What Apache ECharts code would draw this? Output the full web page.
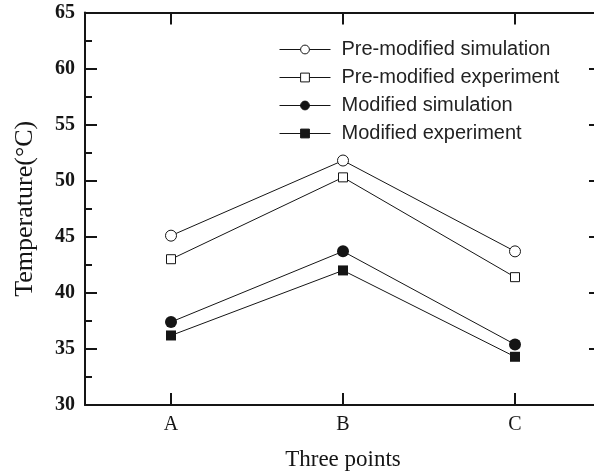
<!DOCTYPE html>
<html>
<head>
<meta charset="utf-8">
<title>Three points temperature</title>
<script src="https://cdn.jsdelivr.net/npm/echarts@6/dist/echarts.min.js"></script>
<style>
  html, body { margin: 0; padding: 0; background: #fff; }
  #chart { width: 594px; height: 474px; }
</style>
</head>
<body>
<div id="chart"></div>
<script>
// values
var categories = ['A', 'B', 'C']
var preSim = [45.1, 51.8, 43.7]
var preExp = [43.0, 50.3, 41.4]
var modSim = [37.4, 43.7, 35.4]
var modExp = [36.2, 42.0, 34.3]

var serifFont = '"Liberation Serif", "Times New Roman", serif'
var sansFont = '"Liberation Sans", Arial, sans-serif'
var ink = '#151515'

function lineSeries (name, data, symbol, size, open) {
  return {
    name: name,
    type: 'line',
    data: data,
    symbol: symbol,
    symbolSize: size,
    lineStyle: { color: ink, width: 1 },
    itemStyle: open
      ? { color: '#fff', borderColor: ink, borderWidth: 1 }
      : { color: ink, borderColor: ink, borderWidth: 0 },
    emphasis: { disabled: true },
    z: 3
  }
}

var tickStyle = { show: true, inside: true, length: 12, lineStyle: { color: ink, width: 2 } }
var minorStyle = { show: true, splitNumber: 2, length: 7, lineStyle: { color: ink, width: 2 } }

var option = {
  animation: false,
  // the right frame edge sits just outside the picture
  grid: { left: 85, top: 12.5, width: 516, height: 392.5, outerBoundsMode: 'none' },
  legend: {
    left: 279,
    top: 39.5,
    padding: 0,
    orient: 'vertical',
    itemWidth: 51,
    itemHeight: 11,
    itemGap: 8,
    lineStyle: { color: ink, width: 1 },
    itemStyle: { borderWidth: 1 },
    textStyle: { fontFamily: sansFont, fontSize: 20, color: '#222', padding: [0, 0, 0, 6] },
    data: ['Pre-modified simulation', 'Pre-modified experiment', 'Modified simulation', 'Modified experiment']
  },
  xAxis: [
    {
      type: 'category',
      data: categories,
      position: 'bottom',
      name: 'Three points',
      nameLocation: 'middle',
      nameGap: 43,
      nameTextStyle: { fontFamily: serifFont, fontSize: 23, color: ink },
      axisLine: { lineStyle: { color: ink, width: 2 } },
      axisTick: Object.assign({ alignWithLabel: true }, tickStyle),
      axisLabel: { fontFamily: serifFont, fontSize: 20, color: ink, margin: 10 },
      splitLine: { show: false }
    },
    {
      type: 'category',
      data: categories,
      position: 'top',
      axisLine: { lineStyle: { color: ink, width: 2 } },
      axisTick: Object.assign({ alignWithLabel: true }, tickStyle),
      axisLabel: { show: false },
      splitLine: { show: false }
    }
  ],
  yAxis: [
    {
      type: 'value',
      min: 30,
      max: 65,
      interval: 5,
      position: 'left',
      name: 'Temperature(°C)',
      nameLocation: 'middle',
      nameGap: 47,
      nameTextStyle: { fontFamily: serifFont, fontSize: 26, color: ink },
      axisLine: { show: true, lineStyle: { color: ink, width: 2 } },
      axisTick: tickStyle,
      minorTick: minorStyle,
      axisLabel: { fontFamily: serifFont, fontSize: 20, fontWeight: 'bold', color: ink, margin: 10 },
      splitLine: { show: false }
    },
    {
      type: 'value',
      min: 30,
      max: 65,
      interval: 5,
      position: 'right',
      axisLine: { show: true, lineStyle: { color: ink, width: 2 } },
      axisTick: tickStyle,
      minorTick: minorStyle,
      axisLabel: { show: false },
      splitLine: { show: false }
    }
  ],
  series: [
    lineSeries('Pre-modified simulation', preSim, 'circle', 11, true),
    lineSeries('Pre-modified experiment', preExp, 'rect', 9, true),
    lineSeries('Modified simulation', modSim, 'circle', 12, false),
    lineSeries('Modified experiment', modExp, 'rect', 10, false)
  ]
}

var chart = echarts.init(document.getElementById('chart'), null, { renderer: 'canvas' })
chart.setOption(option)
</script>
</body>
</html>
